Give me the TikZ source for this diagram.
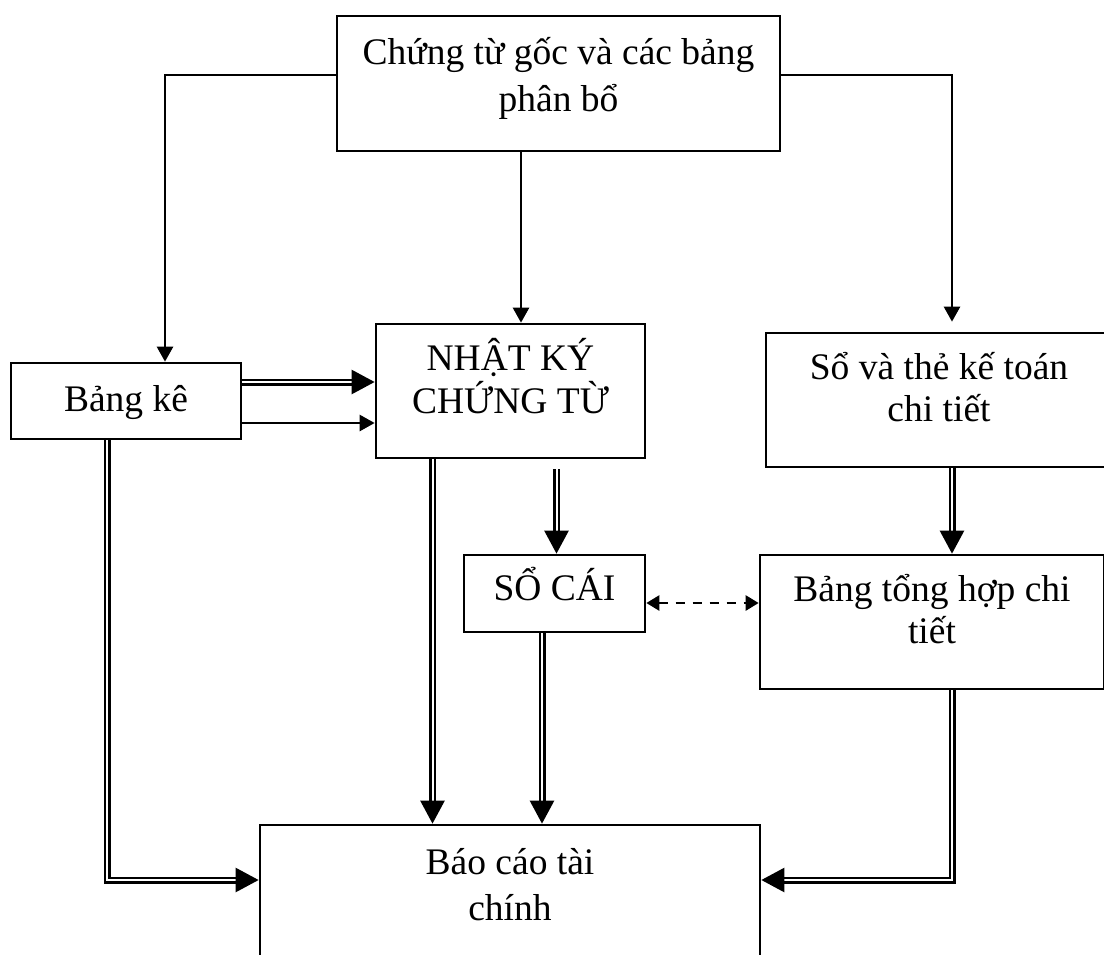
\documentclass[tikz,border=0pt]{standalone}
\usepackage{fontspec}
\setmainfont{Liberation Serif}
\usetikzlibrary{arrows.meta}
\lineskiplimit=-100pt
\begin{document}
\begin{tikzpicture}[x=1pt,y=-1pt,
  box/.style={draw, line width=2.7pt, inner sep=0pt},
  txt/.style={anchor=north, inner sep=0pt, align=center},
  bs/.style={font=\fontsize{37.5}{#1}\selectfont},
  sar/.style={line width=2.6pt, -{Triangle[length=15pt,width=16pt]}},
  dbl/.style={double, double distance=2pt, line width=2.5pt,
    -{Triangle[length=23pt,width=24pt]}},
  dsh/.style={line width=2.6pt, dash pattern=on 9pt off 8pt,
    {Triangle[length=13pt,width=15pt]}-{Triangle[length=13pt,width=15pt]}}]
\useasboundingbox (0,0) rectangle (1104,954);
\clip (0,0) rectangle (1104,954);
\fill[white] (0,0) rectangle (1104,954);

% boxes
\node[box, minimum width=443pt, minimum height=135pt] (top) at (558.5,83.5) {};
\node[txt, bs=47, yshift=-6pt] (toptxt) at (top.north) {\rule{0pt}{44pt}Chứng từ gốc và các bảng\\phân bổ};

\node[box, minimum width=230pt, minimum height=76pt] (bk) at (126,401) {};
\node[txt, bs=47, yshift=-6pt] (bktxt) at (bk.north) {\rule{0pt}{44pt}Bảng kê};

\node[box, minimum width=269pt, minimum height=134pt] (nk) at (510.5,391) {};
\node[txt, bs=43, yshift=-4pt] (nktxt) at (nk.north) {\rule{0pt}{44pt}NHẬT KÝ\\CHỨNG TỪ};

\node[box, minimum width=346pt, minimum height=134pt] (so) at (939,400) {};
\node[txt, bs=42, yshift=-4pt] (sotxt) at (so.north) {\rule{0pt}{44pt}Sổ và thẻ kế toán\\chi tiết};

\node[box, minimum width=181pt, minimum height=77pt] (sc) at (554.5,593.5) {};
\node[txt, bs=47, yshift=-3pt] (sctxt) at (sc.north) {\rule{0pt}{44pt}SỔ CÁI};

\node[box, minimum width=344pt, minimum height=134pt] (th) at (932,622) {};
\node[txt, bs=42, yshift=-4pt] (thtxt) at (th.north) {\rule{0pt}{44pt}Bảng tổng hợp chi\\tiết};

\node[box, minimum width=500pt, minimum height=150pt] (bc) at (510,900) {};
\node[txt, bs=46, yshift=-7pt] (bctxt) at (bc.north) {\rule{0pt}{44pt}Báo cáo tài\\chính};

% single arrows from the top box
\draw[sar] ([yshift=8.5pt]top.west) -| ([xshift=39pt]bk.north);
\draw[sar, shorten >=10pt] ([yshift=8.5pt]top.east) -| ([xshift=13pt]so.north);
\draw[sar] ([xshift=-37.5pt]top.south) -- ([xshift=-37.5pt]top.south |- nk.north);

% Bang ke -> Nhat ky
\draw[dbl] ([yshift=19pt]bk.east) -- ([yshift=19pt]bk.east -| nk.west);
\draw[sar] ([yshift=-22pt]bk.east) -- ([yshift=-22pt]bk.east -| nk.west);

% to Bao cao
\draw[dbl] ([xshift=-19pt]bk.south) |- ([yshift=20pt]bc.west);
\draw[dbl] ([xshift=-78pt]nk.south) -- ([xshift=-78pt]nk.south |- bc.north);
\draw[dbl] ([xshift=-12.5pt]sc.south) -- ([xshift=-12.5pt]sc.south |- bc.north);
\draw[dbl] ([xshift=20pt]th.south) |- ([yshift=20pt]bc.east);

% Nhat ky -> So cai
\draw[dbl, shorten <=10pt] ([xshift=46pt]nk.south) -- ([xshift=46pt]nk.south |- sc.north);

% So chi tiet -> Bang tong hop
\draw[dbl] ([xshift=13pt]so.south) -- ([xshift=13pt]so.south |- th.north);

% So cai <-> Bang tong hop
\draw[dsh] ([yshift=-9.5pt]sc.east) -- ([yshift=-9.5pt]sc.east -| th.west);
\end{tikzpicture}
\end{document}
